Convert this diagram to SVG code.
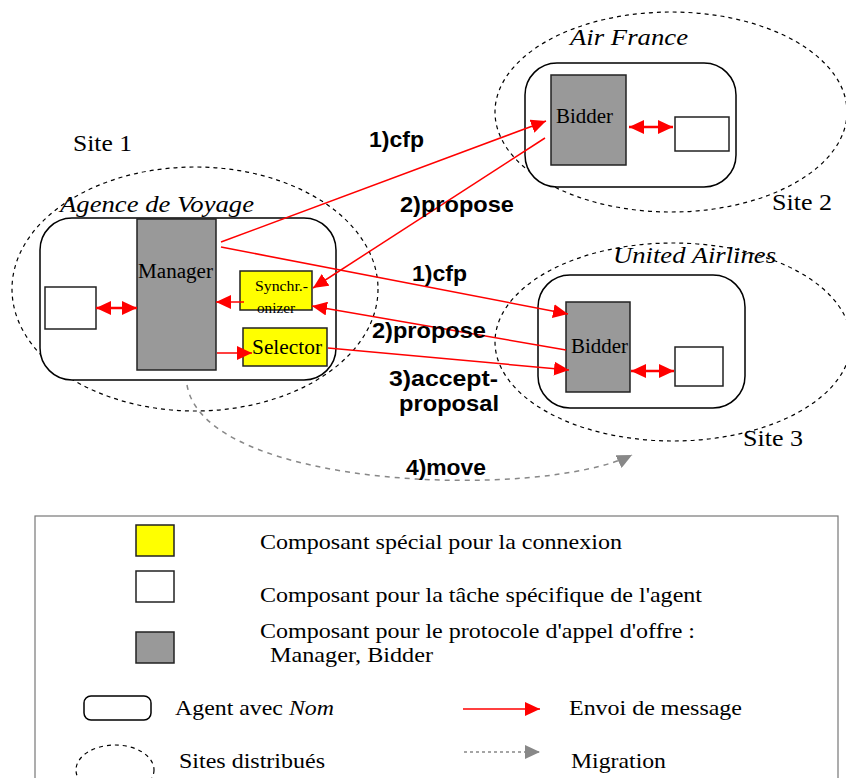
<svg xmlns="http://www.w3.org/2000/svg" width="846" height="778" viewBox="0 0 846 778">
<defs>
<style>
.site{fill:none;stroke:#000;stroke-width:1.2;stroke-dasharray:4 4}
.agent{fill:#fff;stroke:#000;stroke-width:1.5}
.proto{fill:#999;stroke:#222;stroke-width:1.5}
.task{fill:#fff;stroke:#222;stroke-width:1.5}
.spec{fill:#ff0;stroke:#222;stroke-width:1.5}
.msg{fill:none;stroke:#f00;stroke-width:1.5;marker-end:url(#ah)}
.dbl{fill:none;stroke:#f00;stroke-width:2.5;marker-end:url(#ah);marker-start:url(#ah)}
.mig{fill:none;stroke:#888;stroke-width:1.5;stroke-dasharray:5 5;marker-end:url(#gh)}
.serif{font-family:"Liberation Serif","Times New Roman",serif;fill:#000}
.it{font-style:italic}
.lbl{font-family:"Liberation Sans",Arial,sans-serif;font-weight:bold;font-size:22px;fill:#000}
.leg{font-size:22px}
</style>
<marker id="ah" markerUnits="userSpaceOnUse" markerWidth="16" markerHeight="14" refX="15" refY="7" orient="auto-start-reverse"><path d="M0,0 L15,7 L0,14 z" fill="#f00"/></marker>
<marker id="gh" markerUnits="userSpaceOnUse" markerWidth="16" markerHeight="14" refX="15" refY="7" orient="auto"><path d="M0,0 L15,7 L0,14 z" fill="#888"/></marker>
</defs>

<g id="site1">
<ellipse class="site" cx="195" cy="289" rx="183" ry="122"/>
<text class="serif" x="73" y="151" font-size="24" textLength="59" lengthAdjust="spacingAndGlyphs">Site 1</text>
</g>
<g id="site2">
<ellipse class="site" cx="671" cy="112" rx="176" ry="100"/>
<text class="serif" x="772" y="210" font-size="24" textLength="60" lengthAdjust="spacingAndGlyphs">Site 2</text>
</g>
<g id="site3">
<ellipse class="site" cx="673" cy="342" rx="178" ry="99"/>
<text class="serif" x="743" y="446" font-size="24" textLength="60" lengthAdjust="spacingAndGlyphs">Site 3</text>
</g>

<g id="agence">
<rect class="agent" x="40" y="218" width="296" height="162" rx="32"/>
<text class="serif it" x="60" y="212" font-size="24" textLength="194" lengthAdjust="spacingAndGlyphs">Agence de Voyage</text>
</g>
<g id="manager">
<rect class="proto" x="137" y="219" width="79" height="151"/>
<text class="serif" x="138" y="278" font-size="20" textLength="75" lengthAdjust="spacingAndGlyphs">Manager</text>
</g>
<g id="task1"><rect class="task" x="45" y="287" width="51" height="42"/></g>
<g id="synchronizer">
<rect class="spec" x="240" y="271" width="72" height="39"/>
<text class="serif" x="255" y="291" font-size="14" textLength="53" lengthAdjust="spacingAndGlyphs">Synchr.-</text>
<text class="serif" x="257" y="313" font-size="14" textLength="38" lengthAdjust="spacingAndGlyphs">onizer</text>
</g>
<g id="selector">
<rect class="spec" x="243" y="328" width="84" height="38"/>
<text class="serif" x="252" y="354" font-size="21" textLength="70" lengthAdjust="spacingAndGlyphs">Selector</text>
</g>

<g id="airfrance">
<rect class="agent" x="525" y="63" width="211" height="124" rx="32"/>
<text class="serif it" x="570" y="45" font-size="24" textLength="118" lengthAdjust="spacingAndGlyphs">Air France</text>
</g>
<g id="bidder-af">
<rect class="proto" x="551" y="75" width="75" height="90"/>
<text class="serif" x="556" y="123" font-size="20" textLength="57" lengthAdjust="spacingAndGlyphs">Bidder</text>
</g>
<g id="task-af"><rect class="task" x="675" y="117" width="54" height="34"/></g>

<g id="united">
<rect class="agent" x="538" y="275" width="207" height="133" rx="32"/>
<text class="serif it" x="613" y="263" font-size="24" textLength="163" lengthAdjust="spacingAndGlyphs">United Airlines</text>
</g>
<g id="bidder-ua">
<rect class="proto" x="566" y="302" width="64" height="90"/>
<text class="serif" x="571" y="353" font-size="20" textLength="57" lengthAdjust="spacingAndGlyphs">Bidder</text>
</g>
<g id="task-ua"><rect class="task" x="675" y="347" width="48" height="39"/></g>

<g id="connectors">
<line class="dbl" x1="96" y1="308" x2="137" y2="308"/>
<line class="dbl" x1="629" y1="127" x2="673" y2="127"/>
<line class="dbl" x1="631" y1="371" x2="674" y2="371"/>
<line class="msg" x1="244" y1="302" x2="216" y2="302"/>
<line class="msg" x1="217" y1="353" x2="252" y2="353"/>
<line class="msg" x1="221" y1="242" x2="546" y2="121"/>
<line class="msg" x1="545" y1="138" x2="313" y2="288"/>
<line class="msg" x1="221" y1="247" x2="568" y2="314"/>
<line class="msg" x1="566" y1="350" x2="312" y2="306"/>
<line class="msg" x1="328" y1="348" x2="569" y2="370"/>
<path class="mig" d="M187,385 C205,490 540,500 632,455"/>
<text class="lbl" x="369" y="147" textLength="55" lengthAdjust="spacingAndGlyphs">1)cfp</text>
<text class="lbl" x="400" y="212" textLength="114" lengthAdjust="spacingAndGlyphs">2)propose</text>
<text class="lbl" x="412" y="281" textLength="55" lengthAdjust="spacingAndGlyphs">1)cfp</text>
<text class="lbl" x="372" y="338" textLength="114" lengthAdjust="spacingAndGlyphs">2)propose</text>
<text class="lbl" x="389" y="386" textLength="109" lengthAdjust="spacingAndGlyphs">3)accept-</text>
<text class="lbl" x="399" y="411" textLength="100" lengthAdjust="spacingAndGlyphs">proposal</text>
<text class="lbl" x="406" y="475" textLength="80" lengthAdjust="spacingAndGlyphs">4)move</text>
</g>

<g id="legend">
<rect x="35" y="516" width="803" height="270" fill="none" stroke="#777" stroke-width="1.2"/>
<rect class="spec" x="136" y="525" width="38" height="31"/>
<text class="serif leg" x="260" y="549" textLength="362" lengthAdjust="spacingAndGlyphs">Composant spécial pour la connexion</text>
<rect class="task" x="136" y="571" width="38" height="31"/>
<text class="serif leg" x="260" y="602" textLength="442" lengthAdjust="spacingAndGlyphs">Composant pour la tâche spécifique de l'agent</text>
<rect class="proto" x="136" y="632" width="38" height="31"/>
<text class="serif leg" x="260" y="638" textLength="435" lengthAdjust="spacingAndGlyphs">Composant pour le protocole d'appel d'offre :</text>
<text class="serif leg" x="270" y="662" textLength="163" lengthAdjust="spacingAndGlyphs">Manager, Bidder</text>
<rect class="agent" x="84" y="696" width="67" height="24" rx="7"/>
<text class="serif leg" x="175" y="715" textLength="159" lengthAdjust="spacingAndGlyphs">Agent avec <tspan font-style="italic">Nom</tspan></text>
<line class="msg" x1="463" y1="709" x2="540" y2="709"/>
<text class="serif leg" x="569" y="715" textLength="173" lengthAdjust="spacingAndGlyphs">Envoi de message</text>
<ellipse class="site" cx="115" cy="770" rx="39" ry="25" stroke-dasharray="3 4"/>
<text class="serif leg" x="179" y="768" textLength="146" lengthAdjust="spacingAndGlyphs">Sites distribués</text>
<line x1="464" y1="752" x2="540" y2="752" stroke="#888" stroke-width="1.5" stroke-dasharray="3 3" marker-end="url(#gh)"/>
<text class="serif leg" x="571" y="768" textLength="95" lengthAdjust="spacingAndGlyphs">Migration</text>
</g>
</svg>
